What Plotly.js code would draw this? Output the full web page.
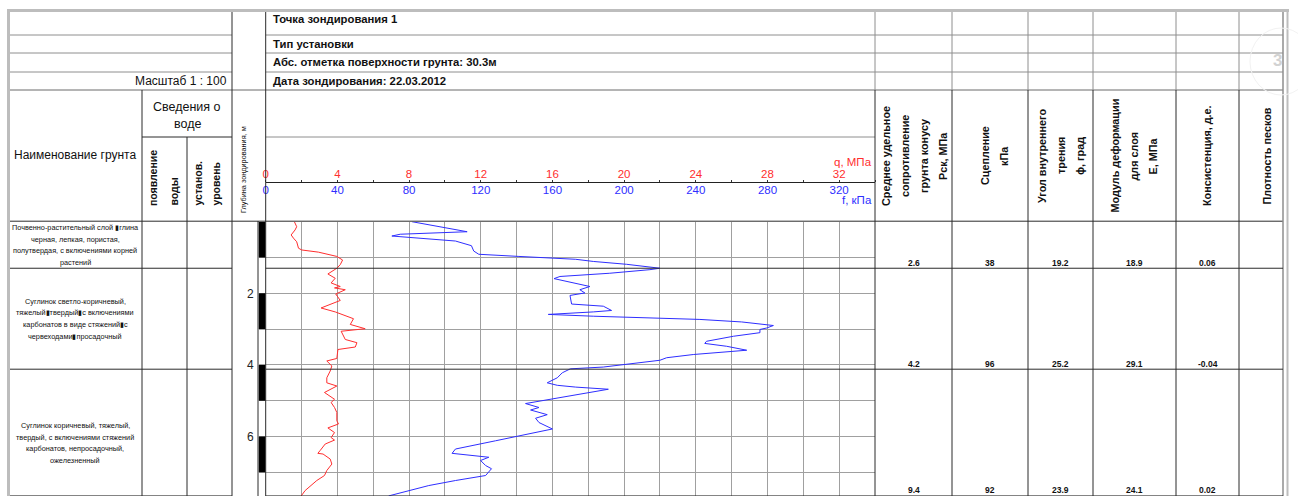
<!DOCTYPE html>
<html><head><meta charset="utf-8">
<script src="https://cdn.plot.ly/plotly-3.0.1.min.js"></script>
<style>html,body{margin:0;padding:0;background:#fff;}#chart{width:1298px;height:496px;}</style>
</head><body><div id="chart"></div>
<script>
// ---------------- DATA ----------------
const qDepth = [0.00,0.14,0.23,0.37,0.46,0.56,0.74,0.79,0.85,0.97,1.07,1.20,1.30,1.46,1.58,1.71,1.81,1.85,1.90,2.02,2.20,2.41,2.52,2.71,2.87,2.99,3.06,3.29,3.38,3.50,3.57,3.82,3.89,4.03,4.17,4.36,4.50,4.59,4.77,4.96,5.05,5.19,5.33,5.56,5.65,5.76,5.89,6.03,6.10,6.21,6.39,6.47,6.49,6.63,6.77,6.95,7.09,7.23,7.51,7.66];
const qValue = [1.60,1.73,1.64,1.42,1.55,1.73,1.83,2.01,2.94,3.97,4.29,4.16,3.97,3.47,3.88,3.65,4.16,3.84,4.44,3.91,4.16,3.09,3.88,4.90,4.72,5.55,4.21,4.44,5.09,5.00,4.03,3.97,3.41,3.69,3.60,3.41,3.41,3.97,3.28,3.84,3.65,3.84,3.97,3.97,4.06,3.47,3.84,3.65,3.84,3.32,3.04,2.91,3.20,3.60,3.69,3.41,3.28,2.85,2.20,1.98];
const fDepth = [0.00,0.28,0.35,0.40,0.54,0.67,0.82,0.91,0.97,1.05,1.11,1.19,1.30,1.34,1.44,1.53,1.59,1.81,1.90,1.99,2.06,2.30,2.36,2.48,2.52,2.59,2.64,2.69,2.73,2.80,2.90,2.97,3.01,3.10,3.20,3.34,3.40,3.48,3.59,3.71,3.80,3.87,3.99,4.06,4.11,4.22,4.36,4.50,4.57,4.62,4.68,4.91,5.08,5.19,5.26,5.39,5.49,5.61,5.79,6.12,6.35,6.47,6.58,6.67,6.81,6.90,7.09,7.23,7.37,7.66];
const fValue = [81.6,112.4,75.1,70.4,105.9,114.8,116.1,118.9,141.3,173.0,182.8,201.4,220.0,214.4,192.0,164.2,160.9,180.9,175.3,178.1,169.8,170.7,188.4,193.0,182.8,157.7,182.8,220.0,242.3,265.6,283.3,279.5,275.8,275.8,261.0,246.0,245.0,257.2,268.4,238.6,223.7,220.0,201.4,188.4,170.0,165.5,162.7,157.1,162.7,173.0,191.2,164.2,145.0,152.5,147.8,157.1,150.6,152.5,160.0,128.2,105.9,104.0,124.5,119.9,122.7,126.0,122.7,105.9,91.0,68.6];

const layerTop    = [0, 1.30, 4.12];
const layerBottom = [1.30, 4.12, 7.66];
const layerName = [
  ['Почвенно-растительный слой ▮глина','черная, лепкая, пористая,','полутвердая, с включениями корней','растений'],
  ['Суглинок светло-коричневый,','тяжелый▮твердый▮с включениями','карбонатов в виде стяжений▮с','червеходами▮просадочный'],
  ['Суглинок коричневый, тяжелый,','твердый, с включениями стяжений','карбонатов, непросадочный,','ожелезненный']
];
const avgResistance = ['2.6','4.2','9.4'];
const cohesion      = ['38','96','92'];
const frictionAngle = ['19.2','25.2','23.9'];
const deformModulus = ['18.9','29.1','24.1'];
const consistency   = ['0.06','-0.04','0.02'];
const sandDensity   = ['','',''];

const stripBlackStart = [0, 2, 4, 6];
const depthGrid   = [1,2,3,4,5,6,7];
const depthLabels = ['','2','','4','','6',''];
const qGrid   = [0,2,4,6,8,10,12,14,16,18,20,22,24,26,28,30,32,34];
const qLabels = ['0','','4','','8','','12','','16','','20','','24','','28','','32',''];
const fTicks  = [0,40,80,120,160,200,240,280,320];

const headerLines = ['Точка зондирования 1','Тип установки','Абс. отметка поверхности грунта: 30.3м','Дата зондирования: 22.03.2012'];
const rightHeaders = [
  ['Среднее удельное','сопротивление','грунта конусу','Рск, МПа'],
  ['Сцепление','кПа'],
  ['Угол внутреннего','трения','ϕ, град'],
  ['Модуль деформации','для слоя','Е, МПа'],
  ['Консистенция, д.е.'],
  ['Плотность песков']
];

// ---------------- LAYOUT HELPERS ----------------
const W = 1298, H = 496;
const fx = x => x / W, fy = y => 1 - y / H;
const DARK = '#2a2a2a', MID = '#8e8e8e', FRAME = '#bdbdbd', GRID = '#a0a0a0';
const SANS = '"Liberation Sans", Arial, sans-serif';
const RED = '#ff2e2e', BLUE = '#2e2eff';

const Y0 = 221.7, Y1 = 496;          // data area top/bottom (px)
const X0 = 265.7, X1 = 875;          // chart area left/right (px)
const AXIS_Y = 181.5;

const shapes = [];
function hl(y, x0, x1, c, w){ shapes.push({type:'line',xref:'paper',yref:'paper',x0:fx(x0),x1:fx(x1),y0:fy(y),y1:fy(y),line:{color:c,width:w}}); }
function vl(x, y0, y1, c, w){ shapes.push({type:'line',xref:'paper',yref:'paper',x0:fx(x),x1:fx(x),y0:fy(y0),y1:fy(y1),line:{color:c,width:w}}); }

// frame
hl(10.5, 7, 1289, FRAME, 3);
vl(8.5, 9, 496, FRAME, 3);
vl(1287.5, 9, 496, FRAME, 2);
// header rows
[35, 53, 72].forEach(y => { hl(y, 10, 232, MID, 1); hl(y, X0, 1283, MID, 1); });
hl(90, 10, 1283, '#6a6a6a', 1);
hl(137, 142, 232, DARK, 1);
hl(137, X0, X1, MID, 1);
hl(221.2, 10, 1283, DARK, 1);
// verticals
vl(232, 12, 496, DARK, 1);
vl(X0, 12, 496, DARK, 1);
vl(142, 90, 496, DARK, 1);
vl(187, 137, 496, DARK, 1);
vl(258, 221, 496, DARK, 1);
const colEdges = [875, 952, 1028, 1093, 1176, 1239];
colEdges.forEach(x => { vl(x, 12, 90, MID, 1); vl(x, 90, 496, DARK, 1); });
vl(1283, 12, 496, MID, 1.5);
// watermark ring
shapes.push({type:'circle',xref:'paper',yref:'paper',x0:fx(1250),x1:fx(1312),y0:fy(28),y1:fy(95),line:{color:'#f2f2f2',width:1}});

// layer boundaries
layerBottom.forEach(d => {
  shapes.push({type:'line',xref:'paper',yref:'y',x0:fx(10),x1:fx(232),y0:d,y1:d,line:{color:DARK,width:1}});
  shapes.push({type:'line',xref:'paper',yref:'y',x0:fx(X0),x1:fx(1283),y0:d,y1:d,line:{color:DARK,width:1}});
});

// ---------------- ANNOTATIONS ----------------
const ann = [];
function txt(text, x, y, o){ ann.push(Object.assign({text, xref:'paper', yref:'paper', x:fx(x), y:fy(y), showarrow:false, xanchor:'center', yanchor:'middle', font:{family:SANS,size:12,color:'#111'}}, o||{})); }
const BOLD = (s) => ({family:SANS, size:s, color:'#111', weight:'bold'});

txt('Масштаб 1 : 100', 229, 81, {xanchor:'right'});
const rowY = [19.5, 44, 62.5, 81];
headerLines.forEach((t,i) => txt(t, 271, rowY[i], {xanchor:'left', font:BOLD(11.3)}));

txt('Наименование грунта', 75, 155, {font:{family:SANS,size:12,color:'#111'}});
txt('Сведения о', 187, 107, {font:{family:SANS,size:12.5,color:'#111'}});
txt('воде', 187, 124.5, {font:{family:SANS,size:12.5,color:'#111'}});
[['появление',153],['воды',173.5],['установ.',197],['уровень',215.5]].forEach(([t,x]) =>
  txt(t, x, 208, {textangle:-90, yanchor:'bottom', font:BOLD(10.5)}));
txt('Глубина зондирования, м', 243.5, 215, {textangle:-90, yanchor:'bottom', font:{family:SANS,size:7.3,color:'#111'}});

const rhX = [914.5, 994.5, 1061, 1133.5, 1207, 1266.5];
const LS = 19;
rightHeaders.forEach((lines,i) => lines.forEach((t,k) =>
  txt(t, rhX[i] + (k - (lines.length-1)/2)*LS, 156, {textangle:-90, font:BOLD(10.8)})));

txt('q, МПа', 874, 161.5, {xanchor:'right', font:{family:SANS,size:11.5,color:RED}});
txt('f, кПа', 874, 200, {xanchor:'right', font:{family:SANS,size:11.5,color:BLUE}});
txt('3', 1277, 60, {font:{family:SANS,size:17,color:'#d2d2d2',weight:'bold'}});

// layer names (one annotation per line)
const LLS = 11.6;
layerName.forEach((lines,i) => lines.forEach((t,k) => {
  ann.push({text:t, xref:'paper', yref:'y', x:fx(75), y:(layerTop[i]+layerBottom[i])/2,
    yshift:((lines.length-1)/2 - k)*LLS + (i===2 ? -10.5 : 0),
    showarrow:false, xanchor:'center', yanchor:'middle', font:{family:SANS,size:7.3,color:'#111'}});
}));
// table values
const valueCols = [avgResistance, cohesion, frictionAngle, deformModulus, consistency, sandDensity];
const colCenters = [913.5, 990, 1060.5, 1134.5, 1207.5, 1261];
valueCols.forEach((col, c) => col.forEach((v, i) => {
  if (v === '') return;
  ann.push({text:v, xref:'paper', yref:'y', x:fx(colCenters[c]), y:layerBottom[i], showarrow:false, xanchor:'center', yanchor:'bottom', yshift:-1.5, font:BOLD(8.5)});
}));

// ---------------- TRACES ----------------
const traces = [
  {type:'bar', orientation:'h', x:stripBlackStart.map(()=>1), y:stripBlackStart.map(d=>d+0.5), width:1, base:0,
   marker:{color:'#000', line:{width:0}}, xaxis:'x3', yaxis:'y', hoverinfo:'skip'},
  {type:'scatter', mode:'lines', x:qValue, y:qDepth, xaxis:'x', yaxis:'y', line:{color:RED, width:1}},
  {type:'scatter', mode:'lines', x:fValue, y:fDepth, xaxis:'x2', yaxis:'y', line:{color:BLUE, width:1}}
];

const layout = {
  width:W, height:H, margin:{l:0,r:0,t:0,b:0}, paper_bgcolor:'#fff', plot_bgcolor:'rgba(0,0,0,0)',
  showlegend:false, hovermode:false,
  xaxis:{domain:[fx(X0), fx(X1)], range:[0,34], anchor:'free', position:fy(AXIS_Y), side:'top',
    tickmode:'array', tickvals:qGrid, ticktext:qLabels, ticks:'outside', ticklen:2, tickcolor:'#333',
    ticklabelstandoff:-3,
    showgrid:true, gridcolor:GRID, gridwidth:1, zeroline:false, showline:true, linecolor:'#222', linewidth:1,
    tickfont:{family:SANS,size:11.5,color:RED}, fixedrange:true},
  xaxis2:{domain:[fx(X0), fx(X1)], range:[0,340], overlaying:'x', anchor:'free', position:fy(AXIS_Y), side:'bottom',
    tickmode:'array', tickvals:fTicks, ticks:'', showgrid:false, zeroline:false, showline:false,
    tickfont:{family:SANS,size:11.5,color:BLUE}, fixedrange:true},
  xaxis3:{domain:[fx(258.5), fx(X0)], range:[0,1], anchor:'y', visible:false, fixedrange:true},
  yaxis:{domain:[fy(Y1), fy(Y0)], range:[7.662, 0], anchor:'x', tickmode:'array', tickvals:depthGrid, ticktext:depthLabels,
    ticks:'', ticklabelstandoff:11, showgrid:true, gridcolor:GRID, gridwidth:1, zeroline:false, showline:false,
    tickfont:{family:SANS,size:12,color:'#222'}, fixedrange:true},
  shapes, annotations:ann
};

Plotly.newPlot('chart', traces, layout, {staticPlot:true, displayModeBar:false});
</script></body></html>
